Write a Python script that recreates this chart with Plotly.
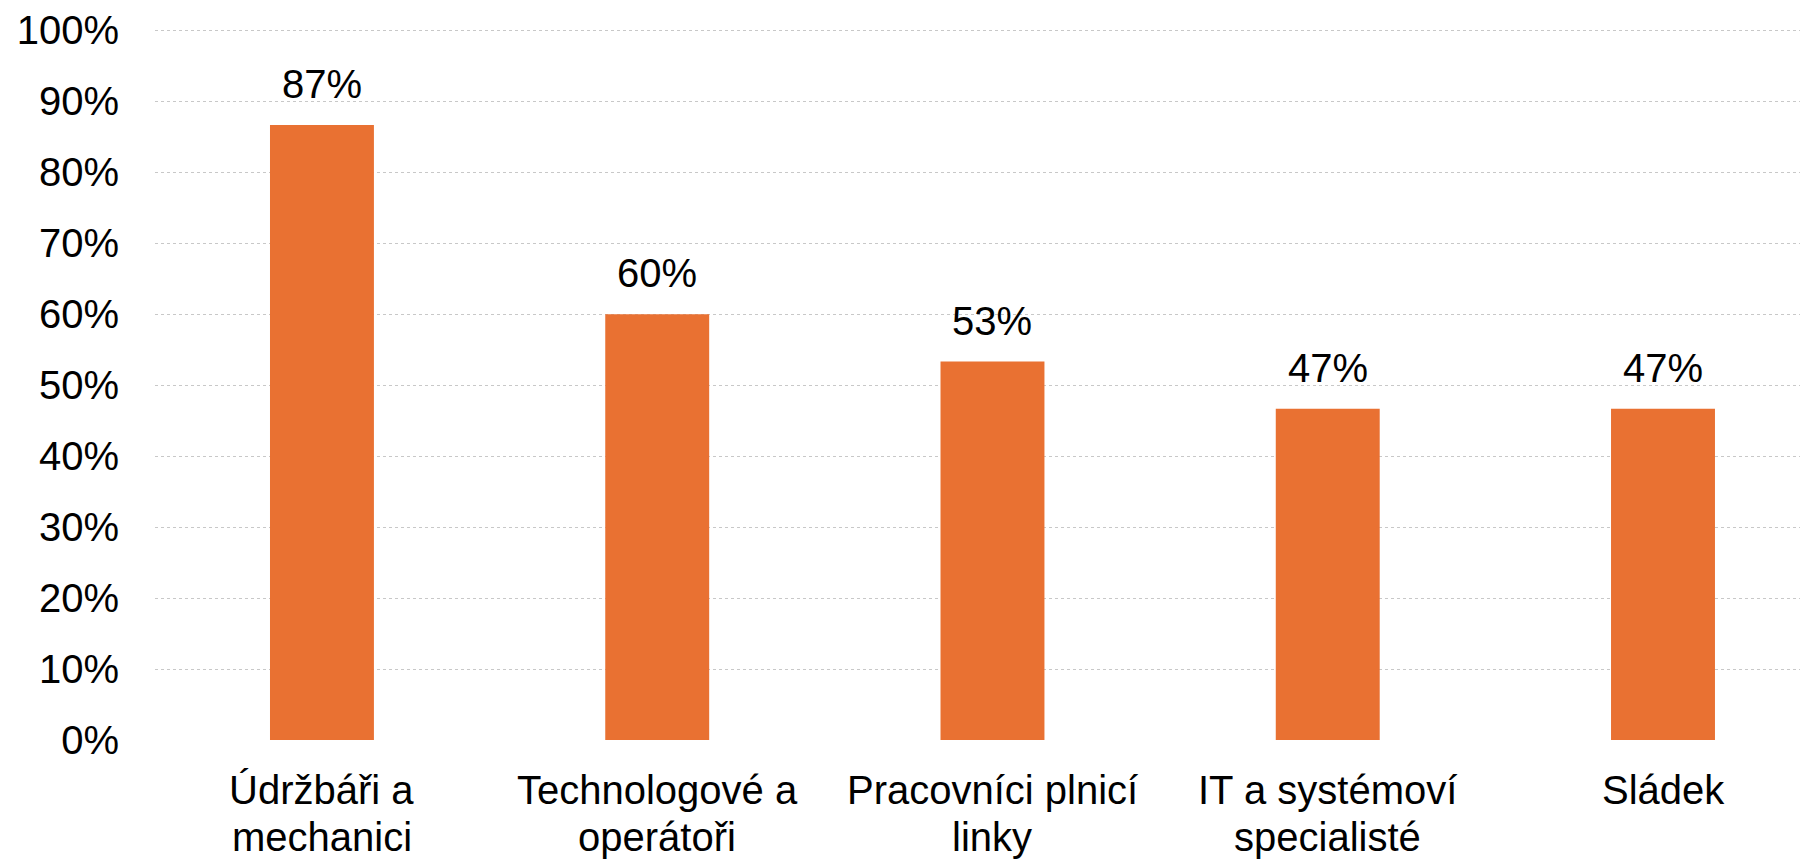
import plotly.graph_objects as go

categories = ["Údržbáři a<br>mechanici", "Technologové a<br>operátoři", "Pracovníci plnicí<br>linky", "IT a systémoví<br>specialisté", "Sládek"]
values = [0.8667, 0.60, 0.5333, 0.4667, 0.4667]
labels = ["87%", "60%", "53%", "47%", "47%"]
tick_vals = [0, 0.1, 0.2, 0.3, 0.4, 0.5, 0.6, 0.7, 0.8, 0.9, 1.0]
tick_text = ["0%", "10%", "20%", "30%", "40%", "50%", "60%", "70%", "80%", "90%", "100%"]

FONT = "Liberation Sans, Arial, sans-serif"
TXT = dict(family=FONT, size=40, color="#000000")

fig = go.Figure()
fig.add_trace(go.Bar(
    x=list(range(len(categories))),
    y=values,
    width=0.31,
    marker=dict(color="#E97132", line=dict(width=0)),
    hoverinfo="skip",
))

# value labels above bars
for i, (v, t) in enumerate(zip(values, labels)):
    fig.add_annotation(x=i, y=v, text=t, showarrow=False, yanchor="middle",
                       yshift=41, font=TXT)

# category labels (custom line spacing)
for i, cat in enumerate(categories):
    for j, line in enumerate(cat.split("<br>")):
        fig.add_annotation(x=i, y=0, text=line, showarrow=False, yanchor="middle",
                           yshift=-50 - 47 * j, font=TXT)

# page body has an 8px default margin, so the figure is sized to fit the window
fig.update_layout(
    width=1800, height=851,
    margin=dict(l=147, r=0, t=21, b=119, pad=0),
    paper_bgcolor="white", plot_bgcolor="white",
    showlegend=False,
    font=TXT,
)
fig.update_xaxes(
    range=[-0.498, 4.4325],
    tickmode="array",
    tickvals=list(range(len(categories))),
    showticklabels=False,
    showgrid=False, zeroline=False, showline=False,
)
fig.update_yaxes(
    range=[0, 1.002],
    tickmode="array",
    tickvals=tick_vals,
    ticktext=tick_text,
    showgrid=True, gridcolor="#c8c8c8", gridwidth=1, griddash="dot",
    zeroline=False, showline=False,
    ticklabelstandoff=35,
    tickfont=TXT,
)

fig.write_html("out.html")
